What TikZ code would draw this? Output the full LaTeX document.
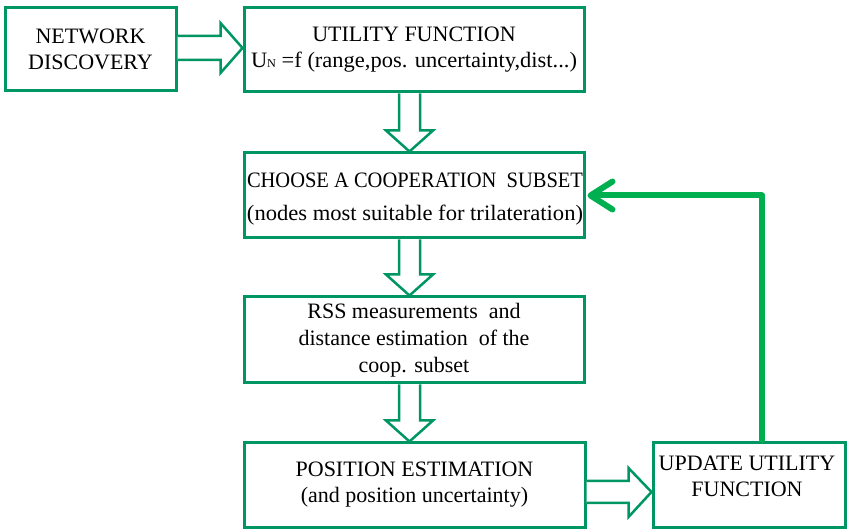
\documentclass[tikz,border=0pt]{standalone}
\usepackage{fontspec}
\usepackage{graphicx}
\setmainfont{Liberation Serif}
\usetikzlibrary{arrows.meta,calc}
\definecolor{boxgreen}{RGB}{0,150,100}
\definecolor{fbgreen}{RGB}{0,176,80}
\newcommand\myvarrow[2]{\draw[blockarrow] let \p1=(#1.south), \p2=(#2.north) in
  (\x1-15pt,\y1) -- (\x1-15pt,\y2+21pt) -- (\x1-28pt,\y2+21pt) -- (\x1-4.5pt,\y2)
  -- (\x1+19pt,\y2+21pt) -- (\x1+6pt,\y2+21pt) -- (\x1+6pt,\y1);}
\newcommand\fitw[2]{\resizebox{#1}{\height}{#2}}
\begin{document}
\begin{tikzpicture}[x=1pt,y=-1pt,
  box/.style={draw=boxgreen, line width=3pt, fill=white, align=center, inner sep=0pt,
    font=\fontsize{22}{26}\selectfont},
  boxtext/.style={align=center, inner sep=0pt, font=\fontsize{22}{26}\selectfont},
  blockarrow/.style={draw=boxgreen, line width=2.5pt, fill=white, line join=miter},
  fb/.style={draw=fbgreen, line width=6pt, line cap=round, line join=round,
    -{Straight Barb[length=22pt,width=28pt,line cap=round,line join=round]}},
]
\useasboundingbox (0,0) rectangle (847,529);
\node[box, minimum width=171pt, minimum height=83pt] (nd) at (90.5,49.5) {NETWORK\\DISCOVERY};
\node[box, minimum width=340pt, minimum height=84pt] (uf) at (414,50)
  {UTILITY FUNCTION\\\fitw{326pt}{U{\fontsize{12}{12}\selectfont N} =f (range,pos. uncertainty,dist...)}};
\node[box, minimum width=340pt, minimum height=85pt] (cs) at (414,195.5) {};
\node[boxtext, font=\fontsize{22}{33}\selectfont] (cst) at (415,199)
  {\fitw{336pt}{CHOOSE A COOPERATION\ \ SUBSET}\\\fitw{336pt}{(nodes most suitable for trilateration)}};
\node[box, minimum width=340pt, minimum height=86pt, font=\fontsize{22}{27}\selectfont] (rss) at (414,340)
  {RSS measurements\ \ and\\distance estimation\ \ of the\\coop. subset};
\node[box, minimum width=341pt, minimum height=84pt] (pe) at (414.5,485)
  {POSITION ESTIMATION\\(and position uncertainty)};
\node[box, minimum width=192pt, minimum height=84pt] (pud) at (749,485) {};
\node[boxtext] (pudt) at (747,476.5) {UPDATE UTILITY\\FUNCTION};
% block arrows
\draw[blockarrow] let \p1=(nd.east), \p2=(uf.west) in
  (\x1,\y1+13.5pt) -- (\x2-22pt,\y1+13.5pt) -- (\x2-22pt,\y1+26.5pt) -- (\x2,\y1+1.5pt)
  -- (\x2-22pt,\y1-23.5pt) -- (\x2-22pt,\y1-10.5pt) -- (\x1,\y1-10.5pt);
\myvarrow{uf}{cs}
\myvarrow{cs}{rss}
\myvarrow{rss}{pe}
\draw[blockarrow] let \p1=(pe.east), \p2=(pud.west) in
  (\x1,\y1+4pt) -- (\x2-23pt,\y1+4pt) -- (\x2-23pt,\y1+17pt) -- (\x2,\y1-7pt)
  -- (\x2-23pt,\y1-32pt) -- (\x2-23pt,\y1-18pt) -- (\x1,\y1-18pt);
% feedback
\draw[fb] ($(pud.north)+(13,-1.5)$) |- ($(cs.east)+(2,0)$);
\end{tikzpicture}
\end{document}
